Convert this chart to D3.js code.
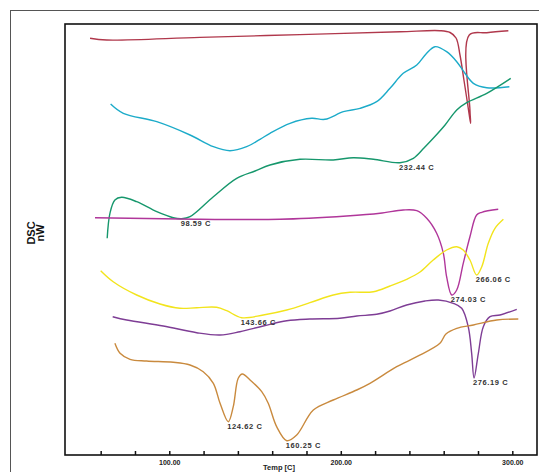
<!DOCTYPE html>
<html>
<head>
<meta charset="utf-8">
<script src="https://cdn.jsdelivr.net/npm/d3@7"></script>
<style>
  body { margin: 0; background: #fff; }
  svg { display: block; font-family: Arial, "Liberation Sans", sans-serif; }
</style>
</head>
<body>
<div class="chart"></div>
<script>
// temperatures (C) and heat flow (arbitrary nW units)
const redT = [53.8, 63.5, 117.9, 176.2, 234.5, 257.8, 263.7, 267.2, 269.5, 271.8, 273.6, 274.9, 275.7, 275.3, 274.9, 285.1, 297.7];
const redV = [416.7, 415, 417.6, 420.4, 423.2, 424.3, 422.5, 417, 400, 375, 355, 340, 331.7, 345, 420, 422.3, 424.3];

const cyanT = [65.8, 73.2, 92.7, 112.1, 125.7, 135.4, 145.1, 152.9, 158.7, 170.4, 183.0, 190.8, 201.5, 211.2, 220.9, 228.7, 236.4, 244.3, 249.7, 254.9, 261.7, 267.6, 272.4, 277.3, 285.1, 298.3];
const cyanV = [351, 341.7, 333.3, 320, 308.3, 304.3, 308.3, 315.7, 321.7, 331.7, 336.7, 335.7, 343.3, 346.7, 353.3, 366.7, 381.7, 390, 401, 408.3, 403.3, 393.3, 381.7, 371.7, 367.3, 368.3];

const greenT = [63.8, 65.4, 68.3, 72.2, 81.0, 92.7, 102.3, 107.2, 112.1, 125.7, 139.3, 150.0, 158.7, 176.2, 195.6, 207.3, 219.0, 234.5, 242.3, 248.5, 253.9, 260.8, 267.6, 273.4, 285.1, 299.1];
const greenV = [216.7, 241.7, 255, 257.7, 253.3, 243.3, 237.3, 236.3, 238.3, 258.3, 276.7, 284, 290, 295.7, 295, 297.3, 295.7, 292.3, 296.7, 307, 316.7, 330, 345, 352.3, 361.7, 376.7];

const magentaT = [56.7, 106.2, 164.5, 203.4, 222.9, 236.4, 244.3, 250.1, 255.9, 259.8, 261.7, 264.7, 267.6, 271.4, 275.3, 279.2, 282.2, 291.8];
const magentaV = [237.3, 236, 235.7, 239, 241.7, 245, 244.3, 236.7, 221.7, 201.7, 178.3, 160, 165, 191.7, 218.3, 240, 242.7, 245.7];

const yellowT = [60.0, 67.3, 81.0, 94.6, 106.2, 116.0, 127.6, 133.5, 142.2, 154.8, 168.5, 182.0, 195.6, 205.4, 219.0, 228.7, 238.4, 246.2, 253.9, 261.7, 267.6, 271.4, 275.3, 279.2, 282.2, 286.0, 289.9, 294.8];
const yellowV = [184.3, 173.3, 160, 151, 146.7, 147.3, 147.7, 144.3, 137.3, 140, 145, 152.3, 160, 162.7, 163.3, 169, 175.7, 183, 195, 205, 208.3, 205, 195, 180, 188.3, 211.7, 226.7, 235.7];

const purpleT = [67.0, 75.2, 96.5, 116.0, 129.6, 141.2, 154.8, 168.5, 182.0, 199.5, 209.3, 220.9, 228.7, 238.4, 249.1, 256.9, 265.6, 270.5, 274.3, 276.3, 277.7, 280.2, 283.1, 287.0, 292.8, 302.6];
const purpleV = [138.3, 135, 129, 122.3, 120, 123.3, 129, 134.3, 136, 136.7, 139, 140.7, 144, 150, 154, 155, 151.7, 146.7, 128.3, 101.7, 77, 101.7, 128.3, 138.3, 140, 145.7];

const orangeT = [68.3, 71.3, 77.1, 86.8, 102.3, 112.1, 119.8, 125.7, 129.6, 134.4, 137.3, 140.2, 142.6, 147.1, 153.9, 157.7, 162.6, 168.5, 174.3, 184.0, 195.6, 209.3, 217.0, 232.6, 244.3, 257.8, 261.3, 267.6, 277.3, 290.9, 303.5];
const orangeV = [111.7, 101.7, 95.7, 94, 92.7, 90, 83.3, 71.7, 51.7, 33.3, 48.3, 76.7, 81, 75, 63.3, 51.7, 28.3, 14.3, 20, 45, 55, 65, 71.7, 88.3, 98.3, 111.7, 121, 126.7, 130, 135, 136];

// peak labels: text, curve, temperature of the marked point
const peakText = ['98.59 C', '232.44 C', '274.03 C', '266.06 C', '143.66 C', '276.19 C', '124.62 C', '160.25 C'];
const peakCurve = ['green', 'green', 'magenta', 'yellow', 'yellow', 'purple', 'orange', 'orange'];
const peakAt = [107.2, 234.5, 264.7, 279.2, 142.2, 277.7, 134.4, 168.5];

const tickTemps = [60, 80, 100, 120, 140, 160, 180, 200, 220, 240, 260, 280, 300];
const tickLabels = [100, 200, 300];

const curves = [
  { name: 'red', T: redT, V: redV, color: '#b0384c' },
  { name: 'cyan', T: cyanT, V: cyanV, color: '#1cabc9' },
  { name: 'green', T: greenT, V: greenV, color: '#16976c' },
  { name: 'magenta', T: magentaT, V: magentaV, color: '#b0369a' },
  { name: 'yellow', T: yellowT, V: yellowV, color: '#f2e41c' },
  { name: 'purple', T: purpleT, V: purpleV, color: '#7e3d95' },
  { name: 'orange', T: orangeT, V: orangeV, color: '#c98a3e' }
];

const width = 539, height = 472;
const margin = { top: 24, right: 2, bottom: 17, left: 65 };
const graphWidth = width - margin.left - margin.right;
const graphHeight = height - margin.top - margin.bottom;

const svg = d3.select('.chart')
  .append('svg')
    .attr('width', width)
    .attr('height', height);

// outer frame
svg.append('rect')
  .attr('x', 10.5).attr('y', 10.5)
  .attr('width', 600).attr('height', 600)
  .attr('fill', 'none')
  .attr('stroke', '#555')
  .attr('stroke-width', 1);

const graph = svg.append('g')
  .attr('transform', `translate(${margin.left}, ${margin.top})`);

const x = d3.scaleLinear()
  .domain([39.2, 314.4])
  .range([0, graphWidth]);

const y = d3.scaleLinear()
  .domain([0, 431])
  .range([graphHeight, 0]);

// plot box
graph.append('rect')
  .attr('x', 0).attr('y', 0)
  .attr('width', graphWidth).attr('height', graphHeight)
  .attr('fill', 'none')
  .attr('stroke', '#111')
  .attr('stroke-width', 1.6);

const line = d3.line()
  .x(d => x(d[0]))
  .y(d => y(d[1]))
  .curve(d3.curveCatmullRom.alpha(0.5));

curves.forEach(c => {
  graph.append('path')
    .datum(c.T.map((t, i) => [t, c.V[i]]))
    .attr('d', line)
    .attr('fill', 'none')
    .attr('stroke', c.color)
    .attr('stroke-width', 1.4)
    .attr('stroke-linejoin', 'round');
});

// peak labels
peakText.forEach((txt, i) => {
  const c = curves.find(k => k.name === peakCurve[i]);
  const j = d3.minIndex(c.T, t => Math.abs(t - peakAt[i]));
  graph.append('text')
    .attr('x', x(c.T[j]) - 1)
    .attr('y', y(c.V[j]) + 7)
    .attr('font-size', 7.5)
    .attr('font-weight', 'bold')
    .attr('letter-spacing', 0.6)
    .attr('fill', '#333')
    .text(txt);
});

// x axis, ticks inside
const xAxis = d3.axisBottom(x)
  .tickValues(tickTemps)
  .tickSize(-4)
  .tickPadding(5)
  .tickFormat(d => tickLabels.includes(d) ? d.toFixed(2) : '');

const xAxisGroup = graph.append('g')
  .attr('transform', `translate(0, ${graphHeight})`)
  .call(xAxis);

xAxisGroup.select('.domain').remove();
xAxisGroup.selectAll('line')
  .attr('stroke', '#111')
  .attr('stroke-width', 1.5);
xAxisGroup.selectAll('text')
  .attr('fill', '#222')
  .attr('font-size', 7)
  .attr('font-weight', 'bold')
  .attr('font-family', 'Arial, sans-serif');

svg.append('text')
  .attr('x', 279).attr('y', 470)
  .attr('text-anchor', 'middle')
  .attr('font-size', 7.5)
  .attr('font-weight', 'bold')
  .attr('fill', '#222')
  .text('Temp [C]');

// y title
const yTitle = svg.append('g')
  .attr('transform', 'translate(35, 233) rotate(-90)');
yTitle.append('text')
  .attr('text-anchor', 'middle')
  .attr('font-size', 11)
  .attr('font-weight', 'bold')
  .attr('fill', '#111')
  .text('DSC');
yTitle.append('text')
  .attr('y', 9)
  .attr('text-anchor', 'middle')
  .attr('font-size', 11)
  .attr('font-weight', 'bold')
  .attr('fill', '#111')
  .text('nW');
</script>
</body>
</html>
